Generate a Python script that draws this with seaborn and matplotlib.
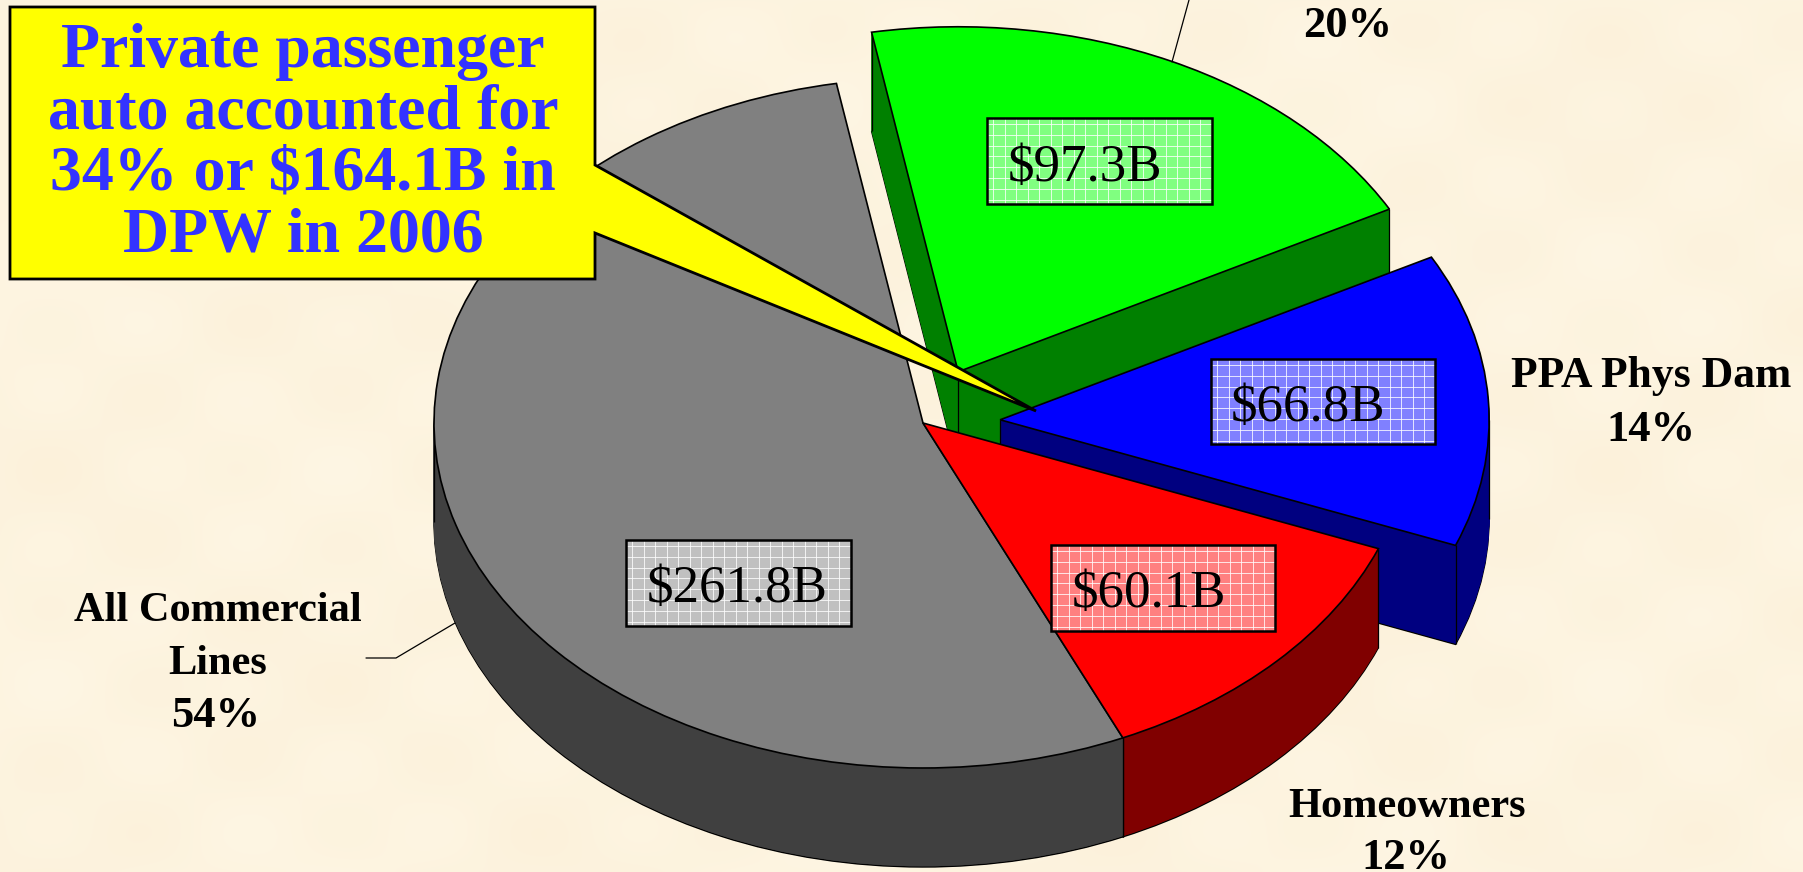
import numpy as np
import seaborn as sns
import matplotlib.pyplot as plt
from matplotlib.patches import Rectangle, Polygon

# DPW by line, billions, in pie order
lines = ["All Commercial Lines", "Homeowners", "PPA Phys Dam", "PPA Liability"]
dpw = [261.8, 60.1, 66.8, 97.3]
dpw_labels = ["$261.8B", "$60.1B", "$66.8B", "$97.3B"]
shares = ["54%", "12%", "14%", "20%"]
callout = "Private passenger\nauto accounted for\n34% or $164.1B in\nDPW in 2006"

top_colors = sns.color_palette(["#808080", "#FF0000", "#0000FF", "#00FF00"])
wall_colors = sns.color_palette(["#404040", "#800000", "#000080", "#008000"])
box_colors = ["#C0C0C0", "#FF8080", "#8080FF", "#80FF80"]
explode = [0, 0, 0.158, 0.165]

W, H = 1803, 872
CX, CY, RX, RY = 923, 423, 489, 345
DEPTH = 99


def px(x, y):
    return (x - CX) / RX, (CY - y) / RY


sns.set_theme(style="white")
plt.rcParams["font.family"] = ["Liberation Serif", "DejaVu Serif"]

fig = plt.figure(figsize=(W / 100, H / 100), dpi=100)
ax = fig.add_axes([0, 0, 1, 1])

# parchment background
xx, yy = np.meshgrid(np.arange(W), np.arange(H))
mottle = np.sin(xx / 31) * np.sin(yy / 23) + 0.8 * np.sin(xx / 83 + 1) * np.sin(yy / 61)
bg = np.dstack([np.full(xx.shape, 0.992) - 0.002 * mottle,
                np.full(xx.shape, 0.955) - 0.005 * mottle,
                np.full(xx.shape, 0.875) - 0.010 * mottle])
ax.imshow(np.clip(bg, 0, 1), extent=[px(0, 0)[0], px(W, 0)[0], px(0, H)[1], px(0, 0)[1]],
          aspect="auto", zorder=0)

# z order: slice groups go back to front, walls before tops
wall_z = {3: 1, 2: 3, 1: 5, 0: 5.5}
top_z = {3: 2, 2: 4, 1: 7, 0: 7}

# stack of pies going down makes the side walls
for k in range(DEPTH, 0, -1):
    wedges, _ = ax.pie(dpw, colors=wall_colors, explode=explode, startangle=100.2,
                       center=(0, -k / RY), radius=1)
    for i, w in enumerate(wedges):
        w.set_zorder(wall_z[i] + (DEPTH - k) * 0.001)
        w.set_edgecolor("black" if k == DEPTH else wall_colors[i])
        w.set_linewidth(1.0 if k == DEPTH else 0.4)
        # vertical edges of the wall
        if k == DEPTH:
            cx, cy = w.center
            angs = [w.theta1, w.theta2] + [a for a in (0, 180, 360, 540) if w.theta1 < a < w.theta2]
            xs = [cx + np.cos(np.radians(a)) for a in angs] + [cx]
            ys = [cy + np.sin(np.radians(a)) for a in angs] + [cy]
            ax.vlines(xs, ys, np.array(ys) + DEPTH / RY, color="black", lw=0.9,
                      zorder=wall_z[i] + 0.9 if i >= 2 else wall_z[i] + 0.4)

wedges, _ = ax.pie(dpw, colors=top_colors, explode=explode, startangle=100.2, radius=1,
                   wedgeprops={"edgecolor": "black", "linewidth": 1.2})
for i, w in enumerate(wedges):
    w.set_zorder(top_z[i])

ax.set_aspect("auto")
ax.set_xlim(px(0, 0)[0], px(W, 0)[0])
ax.set_ylim(px(0, H)[1], px(0, 0)[1])
ax.axis("off")

# value boxes: left, top, right, bottom, text x, baseline
boxes = [(626, 540, 851, 626, 647, 602),
         (1051, 545, 1275, 631, 1072, 607),
         (1211, 359, 1435, 444, 1231, 421),
         (987, 118, 1212, 204, 1008, 181)]
for i, (l, t, r, b, tx, base) in enumerate(boxes):
    x0, y1 = px(l, t)
    x1, y0 = px(r, b)
    ax.add_patch(Rectangle((x0, y0), x1 - x0, y1 - y0, fc=box_colors[i], ec="none", zorder=10))
    ax.vlines([px(v, 0)[0] for v in np.arange(l + 6, r, 11.5)], y0, y1, color="white", lw=0.7, alpha=0.8, zorder=10.1)
    ax.hlines([px(0, v)[1] for v in np.arange(t + 6, b, 10.8)], x0, x1, color="white", lw=0.7, alpha=0.8, zorder=10.1)
    ax.add_patch(Rectangle((x0, y0), x1 - x0, y1 - y0, fc="none", ec="black", lw=1.8, zorder=10.2))
    ax.text(*px(tx, base), dpw_labels[i], fontsize=38.2, color="black", ha="left", va="baseline", zorder=11)

# category labels
label_style = dict(fontweight="bold", color="black", ha="center", va="baseline", zorder=11)
for txt, x, y, size in [("All Commercial", 218, 621, 30.5), ("Lines", 218, 674, 30.5), (shares[0], 216, 727, 32),
                        ("PPA Phys Dam", 1651, 387, 31.4), (shares[2], 1651, 441, 32),
                        (lines[1], 1407, 817, 30.5), (shares[1], 1406, 869, 32),
                        (shares[3], 1348, 37, 32)]:
    ax.text(*px(x, y), txt, fontsize=size, **label_style)

# leader lines
ax.plot(*zip(px(366, 658), px(396, 658), px(455, 623)), color="black", lw=0.9, zorder=9)
ax.plot(*zip(px(1172, 62), px(1189, 0)), color="black", lw=0.9, zorder=9)

# callout
ax.add_patch(Polygon([px(10, 7), px(595, 7), px(595, 165), px(1036, 411), px(595, 233), px(595, 279), px(10, 279)],
                     closed=True, fc="#FFFF00", ec="black", lw=2, zorder=20))
for j, line in enumerate(callout.split("\n")):
    ax.text(*px(303, 67 + j * 61.4), line, fontsize=46, fontweight="bold", color="#3333FF",
            ha="center", va="baseline", zorder=21)

fig.savefig("out.png", dpi=100)
